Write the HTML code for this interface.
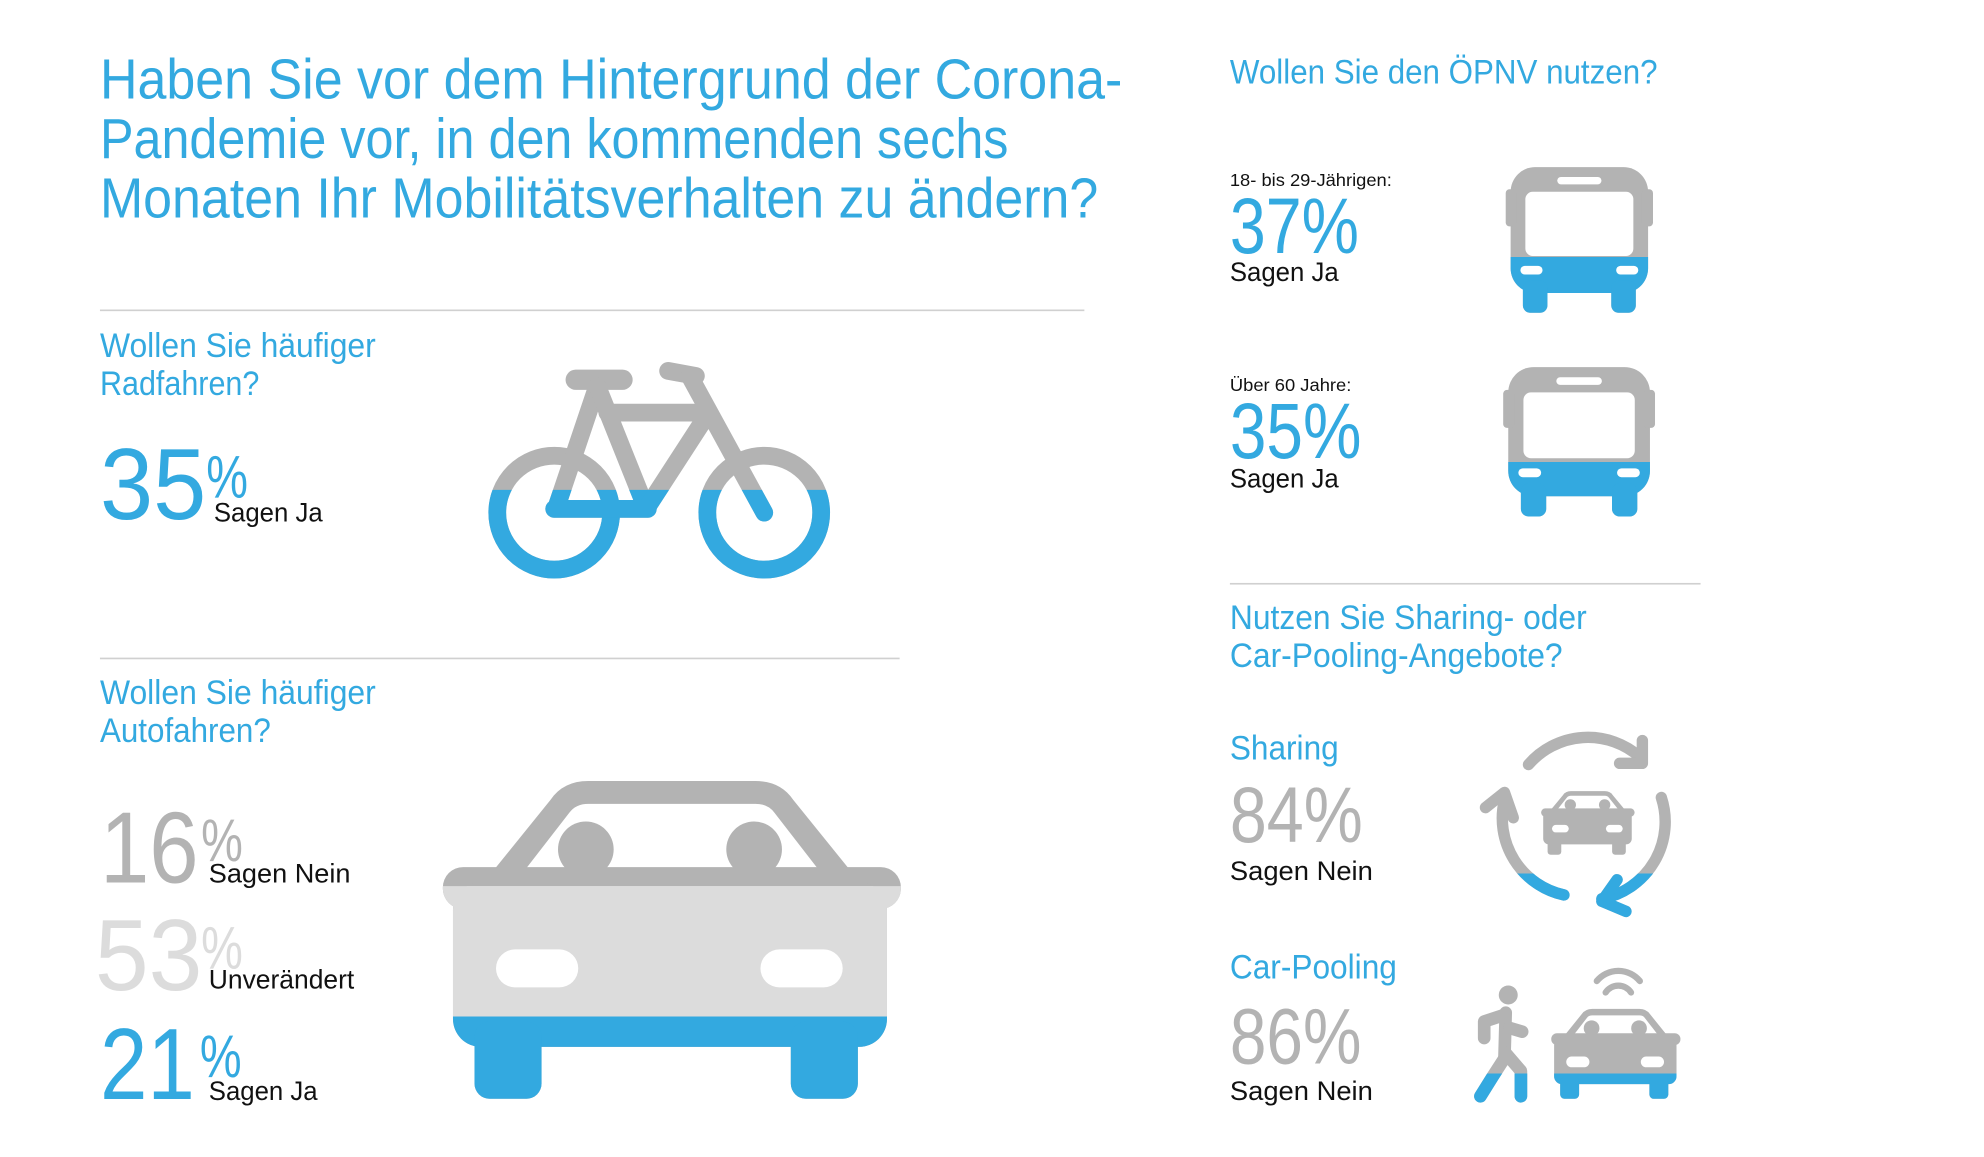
<!DOCTYPE html>
<html><head><meta charset="utf-8"><style>
html,body{margin:0;padding:0;background:#fff;}
svg{display:block;}
text{font-family:"Liberation Sans",sans-serif;}
.b{fill:#33a9e0}.g{fill:#b3b3b3}.l{fill:#dcdcdc}.k{fill:#111}
</style></head><body>
<svg width="1984" height="1157" viewBox="0 0 1568 914" preserveAspectRatio="none" xmlns="http://www.w3.org/2000/svg">
<defs>
  <clipPath id="bikeLow" clipPathUnits="userSpaceOnUse"><rect x="0" y="387" width="1560" height="600"/></clipPath>
  <clipPath id="carMid" clipPathUnits="userSpaceOnUse"><rect x="0" y="700" width="1560" height="103"/></clipPath>
  <clipPath id="carLow" clipPathUnits="userSpaceOnUse"><rect x="0" y="803" width="1560" height="200"/></clipPath>
  <clipPath id="bus1Low" clipPathUnits="userSpaceOnUse"><rect x="0" y="203" width="1560" height="60"/></clipPath>
  <clipPath id="bus2Low" clipPathUnits="userSpaceOnUse"><rect x="0" y="365" width="1560" height="60"/></clipPath>
  <clipPath id="shareLow" clipPathUnits="userSpaceOnUse"><rect x="0" y="690" width="1560" height="60"/></clipPath>
  <clipPath id="poolLow" clipPathUnits="userSpaceOnUse"><rect x="0" y="848" width="1560" height="60"/></clipPath>
  <g id="car">
    <path d="M30,83 L85,15 Q95,0 115,0 L247,0 Q267,0 277,15 L332,83 Z"/>
    <path d="M55,83 L100,25 Q105,18 115,18 L247,18 Q257,18 262,25 L307,83 Z" fill="#fff"/>
    <circle cx="113" cy="54" r="22"/><circle cx="246" cy="54" r="22"/>
    <rect x="0" y="68" width="362" height="33" rx="16"/>
    <rect x="8" y="80" width="343" height="130" rx="22"/>
    <rect x="25" y="190" width="53" height="61" rx="12"/>
    <rect x="275" y="190" width="53" height="61" rx="12"/>
    <rect x="42" y="133" width="65" height="30" rx="15" fill="#fff"/>
    <rect x="251" y="133" width="65" height="30" rx="15" fill="#fff"/>
  </g>
  <g id="bus">
    <rect x="4" y="0" width="112" height="102" rx="20"/>
    <rect x="0" y="18" width="9" height="30" rx="3"/>
    <rect x="111" y="18" width="9" height="30" rx="3"/>
    <rect x="14" y="92" width="20" height="26" rx="6"/>
    <rect x="86" y="92" width="20" height="26" rx="6"/>
    <rect x="16" y="20" width="88" height="52" rx="6" fill="#fff"/>
    <rect x="42" y="8" width="36" height="6" rx="3" fill="#fff"/>
    <rect x="12" y="80" width="18" height="7" rx="3.5" fill="#fff"/>
    <rect x="90" y="80" width="18" height="7" rx="3.5" fill="#fff"/>
  </g>
  <g id="bike" fill="none" stroke-linecap="round" stroke-linejoin="round">
    <circle cx="438" cy="405" r="45" stroke-width="14"/>
    <circle cx="604" cy="405" r="45" stroke-width="14"/>
    <line x1="455" y1="300" x2="492" y2="300" stroke-width="16"/>
    <line x1="528" y1="293" x2="550" y2="297" stroke-width="14"/>
    <line x1="480" y1="326" x2="560" y2="326" stroke-width="14"/>
    <line x1="472" y1="305" x2="440" y2="400" stroke-width="14"/>
    <line x1="472" y1="305" x2="510" y2="400" stroke-width="14"/>
    <line x1="560" y1="326" x2="512" y2="400" stroke-width="14"/>
    <line x1="438" y1="402" x2="512" y2="402" stroke-width="14"/>
    <line x1="545" y1="297" x2="604" y2="405" stroke-width="14"/>
  </g>
  <g id="share" fill="none" stroke-width="9" stroke-linecap="round" stroke-linejoin="round">
    <path d="M1208,604 A62,62 0 0 1 1296,598"/>
    <path d="M1298,585 L1298,603 L1280,603"/>
    <path d="M1189,632 A62,62 0 0 0 1236,707"/>
    <path d="M1174,638 L1189,626 L1196,646"/>
    <path d="M1313,630 A62,62 0 0 1 1266,710"/>
    <path d="M1278,695 L1266,712 L1285,720"/>
  </g>
  <g id="walker" fill="none" stroke-width="10" stroke-linecap="round" stroke-linejoin="round">
    <path d="M1190,800 L1189,836"/>
    <path d="M1188,802 L1173,807 L1173,820"/>
    <path d="M1193,812 L1203,815"/>
    <path d="M1189,836 L1180,850 L1170,866"/>
    <path d="M1190,832 L1202,846 L1202,866"/>
  </g>
</defs>

<!-- Title -->
<g class="b">
  <text x="79" y="78" font-size="45" textLength="808" lengthAdjust="spacingAndGlyphs">Haben Sie vor dem Hintergrund der Corona-</text>
  <text x="79" y="125" font-size="45" textLength="718" lengthAdjust="spacingAndGlyphs">Pandemie vor, in den kommenden sechs</text>
  <text x="79" y="172" font-size="45" textLength="789" lengthAdjust="spacingAndGlyphs">Monaten Ihr Mobilitätsverhalten zu ändern?</text>
</g>
<rect x="79" y="244.5" width="778" height="1.3" fill="#d0d0d0"/>

<!-- Bike section -->
<g class="b">
  <text x="79" y="282" font-size="27" textLength="218" lengthAdjust="spacingAndGlyphs">Wollen Sie häufiger</text>
  <text x="79" y="312" font-size="27" textLength="126" lengthAdjust="spacingAndGlyphs">Radfahren?</text>
</g>
<g>
  <text class="b" x="79" y="410" font-size="80" textLength="84" lengthAdjust="spacingAndGlyphs">35</text>
  <text class="b" x="163" y="393" font-size="48" textLength="33" lengthAdjust="spacingAndGlyphs">%</text>
  <text class="k" x="169" y="412" font-size="21" textLength="86" lengthAdjust="spacingAndGlyphs">Sagen Ja</text>
</g>
<g>
  <use href="#bike" stroke="#b3b3b3"/>
  <g clip-path="url(#bikeLow)"><use href="#bike" stroke="#33a9e0"/></g>
</g>
<rect x="79" y="519.5" width="632" height="1.3" fill="#d0d0d0"/>

<!-- Car section -->
<g class="b">
  <text x="79" y="556" font-size="27" textLength="218" lengthAdjust="spacingAndGlyphs">Wollen Sie häufiger</text>
  <text x="79" y="586" font-size="27" textLength="135" lengthAdjust="spacingAndGlyphs">Autofahren?</text>
</g>
<g>
  <text class="g" x="79" y="697" font-size="80" textLength="78" lengthAdjust="spacingAndGlyphs">16</text>
  <text class="g" x="159" y="680" font-size="48" textLength="33" lengthAdjust="spacingAndGlyphs">%</text>
  <text class="k" x="165" y="697" font-size="21" textLength="112" lengthAdjust="spacingAndGlyphs">Sagen Nein</text>
</g>
<g>
  <text class="l" x="75" y="782" font-size="80" textLength="85" lengthAdjust="spacingAndGlyphs">53</text>
  <text class="l" x="159" y="765" font-size="48" textLength="33" lengthAdjust="spacingAndGlyphs">%</text>
  <text class="k" x="165" y="781" font-size="21" textLength="115" lengthAdjust="spacingAndGlyphs">Unverändert</text>
</g>
<g>
  <text class="b" x="79" y="868" font-size="80" textLength="75" lengthAdjust="spacingAndGlyphs">21</text>
  <text class="b" x="158" y="851" font-size="48" textLength="33" lengthAdjust="spacingAndGlyphs">%</text>
  <text class="k" x="165" y="869" font-size="21" textLength="86" lengthAdjust="spacingAndGlyphs">Sagen Ja</text>
</g>
<g>
  <use href="#car" fill="#b3b3b3" transform="translate(350,617)"/>
  <g clip-path="url(#carMid)"><use href="#car" fill="#dcdcdc" transform="translate(350,617)"/></g>
  <g clip-path="url(#carLow)"><use href="#car" fill="#33a9e0" transform="translate(350,617)"/></g>
</g>

<!-- OEPNV -->
<text class="b" x="972" y="66" font-size="27" textLength="338" lengthAdjust="spacingAndGlyphs">Wollen Sie den ÖPNV nutzen?</text>
<g>
  <text class="k" x="972" y="147" font-size="14" textLength="128" lengthAdjust="spacingAndGlyphs">18- bis 29-Jährigen:</text>
  <text class="b" x="972" y="200" font-size="62" textLength="102" lengthAdjust="spacingAndGlyphs">37%</text>
  <text class="k" x="972" y="222" font-size="21" textLength="86" lengthAdjust="spacingAndGlyphs">Sagen Ja</text>
</g>
<g>
  <use href="#bus" fill="#b3b3b3" transform="translate(1190,132) scale(0.97,0.975)"/>
  <g clip-path="url(#bus1Low)"><use href="#bus" fill="#33a9e0" transform="translate(1190,132) scale(0.97,0.975)"/></g>
</g>
<g>
  <text class="k" x="972" y="309" font-size="14" textLength="96" lengthAdjust="spacingAndGlyphs">Über 60 Jahre:</text>
  <text class="b" x="972" y="362" font-size="62" textLength="104" lengthAdjust="spacingAndGlyphs">35%</text>
  <text class="k" x="972" y="385" font-size="21" textLength="86" lengthAdjust="spacingAndGlyphs">Sagen Ja</text>
</g>
<g>
  <use href="#bus" fill="#b3b3b3" transform="translate(1188,290) scale(1,1)"/>
  <g clip-path="url(#bus2Low)"><use href="#bus" fill="#33a9e0" transform="translate(1188,290) scale(1,1)"/></g>
</g>
<rect x="972" y="460.5" width="372" height="1.3" fill="#d0d0d0"/>

<!-- Sharing -->
<g class="b">
  <text x="972" y="497" font-size="27" textLength="282" lengthAdjust="spacingAndGlyphs">Nutzen Sie Sharing- oder</text>
  <text x="972" y="527" font-size="27" textLength="263" lengthAdjust="spacingAndGlyphs">Car-Pooling-Angebote?</text>
</g>
<g>
  <text class="b" x="972" y="600" font-size="27" textLength="86" lengthAdjust="spacingAndGlyphs">Sharing</text>
  <text class="g" x="972" y="665" font-size="62" textLength="105" lengthAdjust="spacingAndGlyphs">84%</text>
  <text class="k" x="972" y="695" font-size="21" textLength="113" lengthAdjust="spacingAndGlyphs">Sagen Nein</text>
</g>
<g>
  <use href="#share" stroke="#b3b3b3"/>
  <g clip-path="url(#shareLow)"><use href="#share" stroke="#33a9e0"/></g>
  <use href="#car" fill="#b3b3b3" transform="translate(1218,625) scale(0.204,0.2)"/>
</g>
<g>
  <text class="b" x="972" y="773" font-size="27" textLength="132" lengthAdjust="spacingAndGlyphs">Car-Pooling</text>
  <text class="g" x="972" y="840" font-size="62" textLength="104" lengthAdjust="spacingAndGlyphs">86%</text>
  <text class="k" x="972" y="869" font-size="21" textLength="113" lengthAdjust="spacingAndGlyphs">Sagen Nein</text>
</g>
<g>
  <circle cx="1192" cy="786" r="7.5" fill="#b3b3b3"/>
  <use href="#walker" stroke="#b3b3b3"/>
  <g clip-path="url(#poolLow)"><use href="#walker" stroke="#33a9e0"/></g>
  <path d="M1262,775 A22,22 0 0 1 1296,775" fill="none" stroke="#b3b3b3" stroke-width="5" stroke-linecap="round"/>
  <path d="M1269,784 A12,12 0 0 1 1289,784" fill="none" stroke="#b3b3b3" stroke-width="5" stroke-linecap="round"/>
  <use href="#car" fill="#b3b3b3" transform="translate(1226,797) scale(0.282,0.283)"/>
  <g clip-path="url(#poolLow)"><use href="#car" fill="#33a9e0" transform="translate(1226,797) scale(0.282,0.283)"/></g>
</g>
</svg>
</body></html>
